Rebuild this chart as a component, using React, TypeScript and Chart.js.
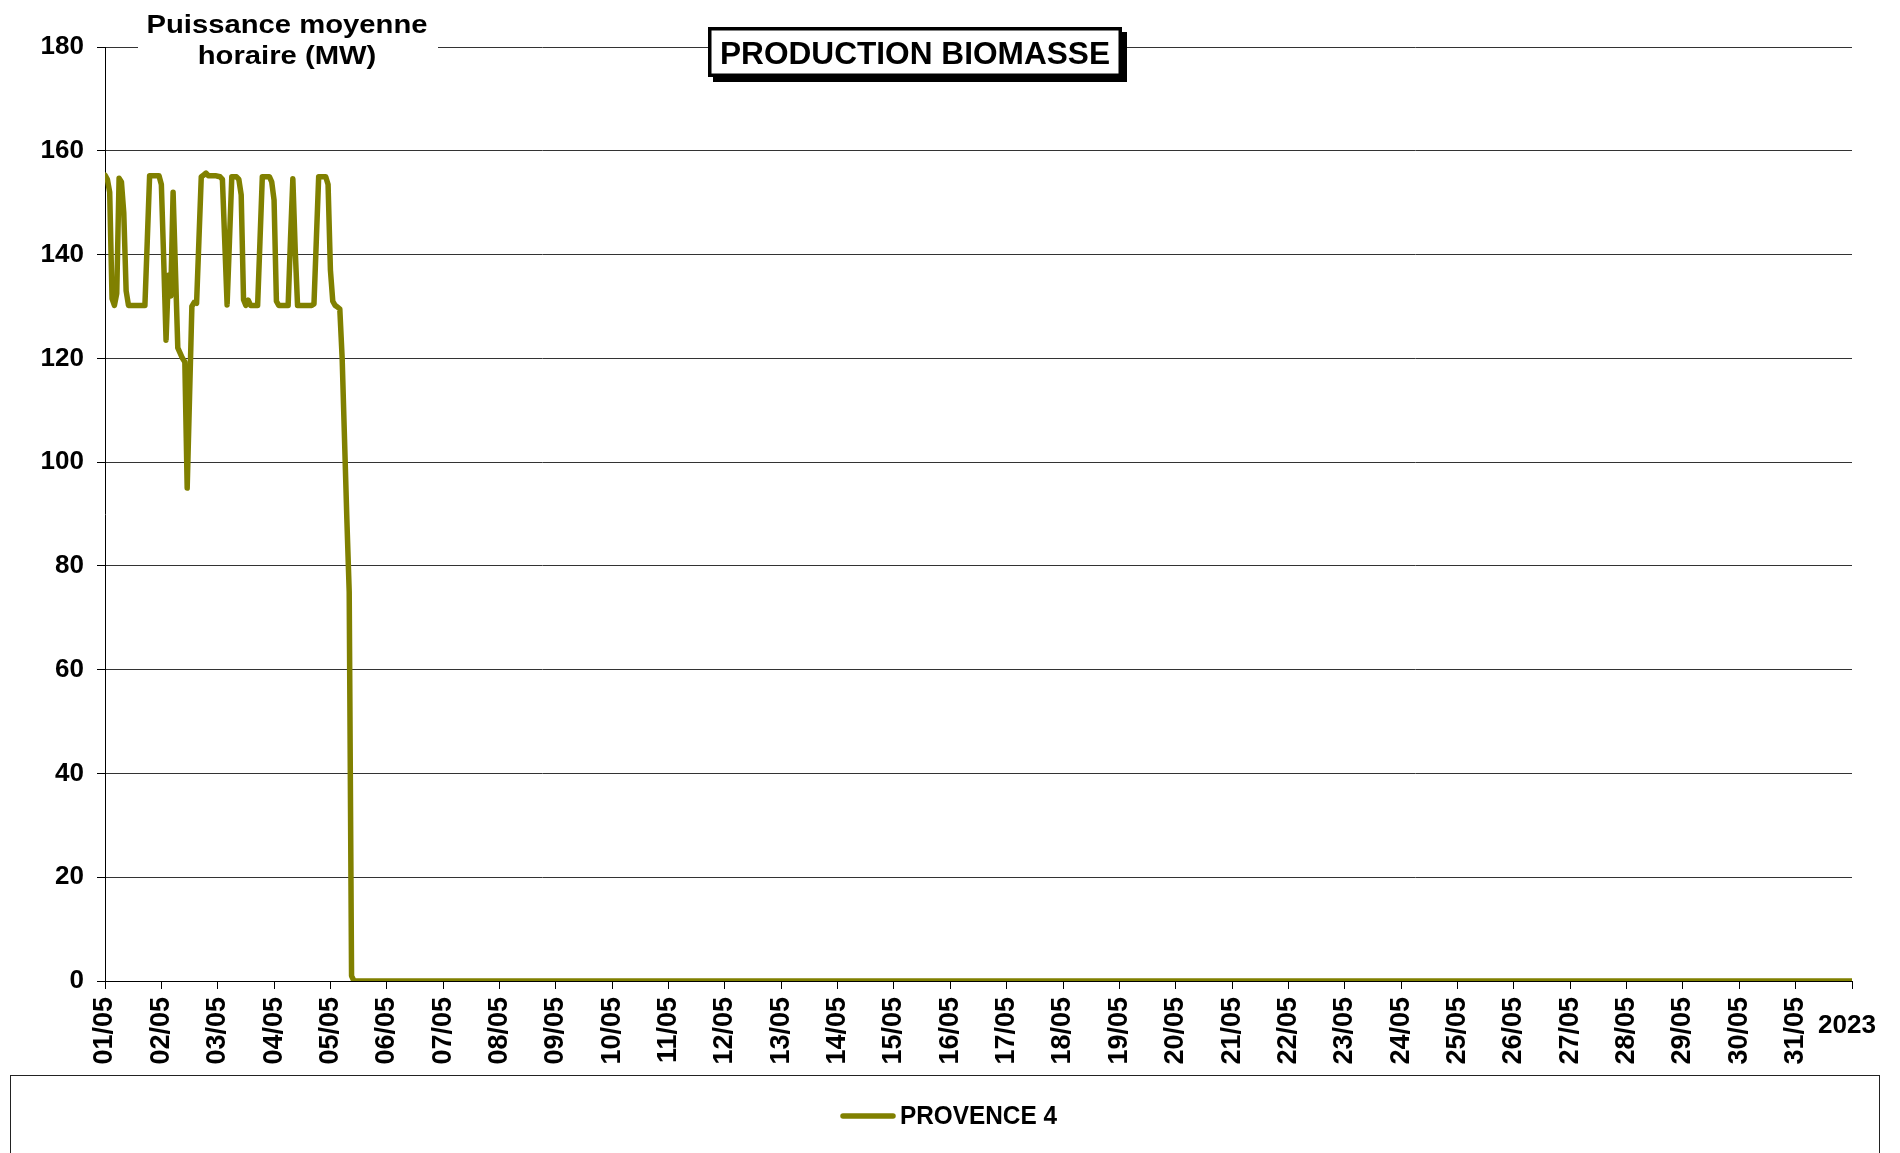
import React, { useEffect, useRef } from "react";
import { Chart, registerables } from "chart.js";

Chart.register(...registerables);

const CHART_TITLE = "PRODUCTION BIOMASSE";
const Y_TITLE_LINES = ["Puissance moyenne", "horaire (MW)"];
const SERIES_NAME = "PROVENCE 4";
const YEAR_LABEL = "2023";
const LINE_COLOR = "#808000";

const Y_MIN = 0;
const Y_MAX = 180;
const Y_STEP = 20;
const HOURS_PER_DAY = 24;

const DAY_LABELS = [
  "01/05", "02/05", "03/05", "04/05", "05/05", "06/05", "07/05", "08/05",
  "09/05", "10/05", "11/05", "12/05", "13/05", "14/05", "15/05", "16/05",
  "17/05", "18/05", "19/05", "20/05", "21/05", "22/05", "23/05", "24/05",
  "25/05", "26/05", "27/05", "28/05", "29/05", "30/05", "31/05",
];

// Hourly mean power (MW), from 01/05 00h, while the unit runs
const ACTIVE_HOURS = [
  155.3, 154.5, 152, 131.5, 130.2, 132.5, 154.7, 154, 148, 133,
  130.2, 130.2, 130.2, 130.2, 130.2, 130.2, 130.2, 130.2, 142.6, 155.2,
  155.2, 155.2, 155.2, 155.2, 153.5, 139, 123.5, 136, 132, 152,
  137, 122, 121, 120, 119.3, 95, 112.5, 130, 130.8, 130.6,
  142.8, 155, 155.3, 155.7, 155.2, 155.2, 155.2, 155.2, 155.1, 155,
  154.5, 142.5, 130.3, 142.6, 155, 155, 155, 154.5, 151.5, 131.3,
  130.2, 131.2, 130.2, 130.2, 130.2, 130.2, 142.6, 155, 155, 155,
  155, 154, 150.5, 131, 130.2, 130.2, 130.2, 130.2, 130.2, 143,
  154.6, 141, 130.2, 130.2, 130.2, 130.2, 130.2, 130.2, 130.2, 130.5,
  142.8, 155, 155, 155, 155, 153.5, 137, 131, 130.2, 129.9,
  129.5, 120, 104.5, 89, 75, 1, 0,
];
// Remaining hours of the month (through the 2023 end tick): unit stopped, 0 MW
const STOPPED_HOURS = 638;
const STOPPED_VALUE = 0;

const FONT = '"Liberation Sans", Arial, sans-serif';

export default function App() {
  const ref = useRef<HTMLCanvasElement | null>(null);

  useEffect(() => {
    document.body.style.margin = "0";
    const canvas = ref.current;
    if (!canvas) return;

    const values = [...ACTIVE_HOURS, ...new Array(STOPPED_HOURS).fill(STOPPED_VALUE)];
    const points = values.map((v, i) => ({ x: i, y: v }));
    const xMax = values.length - 1;

    const overlay = {
      id: "overlay",
      afterDraw(chart: any) {
        const ctx = chart.ctx as CanvasRenderingContext2D;
        ctx.save();

        // Y-axis title (horizontal, top-left)
        ctx.fillStyle = "#fff";
        ctx.fillRect(138, 0, 300, 72);
        ctx.font = `bold 26px ${FONT}`;
        ctx.fillStyle = "#000";
        ctx.textAlign = "center";
        ctx.textBaseline = "alphabetic";
        const w0 = ctx.measureText(Y_TITLE_LINES[0]).width;
        const sx = 281 / w0;
        Y_TITLE_LINES.forEach((t, i) => {
          ctx.save();
          ctx.translate(287, 33 + i * 31);
          ctx.scale(sx, 1);
          ctx.fillText(t, 0, 0);
          ctx.restore();
        });

        // Chart title box with shadow
        ctx.fillStyle = "#000";
        ctx.fillRect(713, 32, 414, 50);
        ctx.fillStyle = "#fff";
        ctx.fillRect(708, 27, 414, 50);
        ctx.lineWidth = 3.5;
        ctx.strokeStyle = "#000";
        ctx.strokeRect(709.75, 28.75, 410.5, 46.5);
        ctx.font = `bold 31px ${FONT}`;
        ctx.fillStyle = "#000";
        const tw = ctx.measureText(CHART_TITLE).width;
        ctx.save();
        ctx.translate(915, 64);
        ctx.scale(390 / tw, 1);
        ctx.fillText(CHART_TITLE, 0, 0);
        ctx.restore();

        // Year label at end of x axis
        ctx.font = `bold 25px ${FONT}`;
        ctx.textBaseline = "middle";
        ctx.textAlign = "center";
        const yw = ctx.measureText(YEAR_LABEL).width;
        ctx.save();
        ctx.translate(1847, 1026);
        ctx.scale(58 / yw, 1);
        ctx.fillText(YEAR_LABEL, 0, 0);
        ctx.restore();

        // Legend frame
        ctx.lineWidth = 1;
        ctx.strokeStyle = "#222";
        ctx.strokeRect(10.5, 1075.5, 1869, 120);
        ctx.strokeStyle = LINE_COLOR;
        ctx.lineWidth = 5.5;
        ctx.lineCap = "round";
        ctx.beginPath();
        ctx.moveTo(843, 1116);
        ctx.lineTo(893, 1116);
        ctx.stroke();
        ctx.fillStyle = "#000";
        ctx.font = `bold 25px ${FONT}`;
        ctx.textAlign = "left";
        ctx.textBaseline = "middle";
        const lw = ctx.measureText(SERIES_NAME).width;
        ctx.save();
        ctx.translate(900, 1117);
        ctx.scale(157 / lw, 1);
        ctx.fillText(SERIES_NAME, 0, 0);
        ctx.restore();

        ctx.restore();
      },
    };

    const chart = new Chart(canvas, {
      type: "line",
      data: {
        datasets: [
          {
            label: SERIES_NAME,
            data: points,
            borderColor: LINE_COLOR,
            backgroundColor: LINE_COLOR,
            borderWidth: 5.5,
            pointRadius: 0,
            tension: 0,
            borderJoinStyle: "round",
            borderCapStyle: "round",
            fill: false,
          },
        ],
      },
      options: {
        responsive: false,
        animation: false,
        devicePixelRatio: 1,
        parsing: false,
        normalized: true,
        layout: { padding: { top: 47, right: 48, bottom: 80, left: 0 } },
        plugins: {
          legend: { display: false },
          title: { display: false },
          tooltip: { enabled: false },
        },
        scales: {
          x: {
            type: "linear",
            min: 0,
            max: xMax,
            afterFit: (s: any) => {
              s.height = 92;
            },
            afterBuildTicks: (s: any) => {
              const t = [];
              for (let v = 0; v <= xMax; v += HOURS_PER_DAY) t.push({ value: v });
              s.ticks = t;
            },
            ticks: {
              autoSkip: false,
              minRotation: 90,
              maxRotation: 90,
              padding: 8,
              color: "#000",
              font: { family: FONT, size: 27, weight: "bold" },
              callback: (v: any) => {
                const d = Math.round(Number(v) / HOURS_PER_DAY);
                return d < DAY_LABELS.length ? DAY_LABELS[d] : "";
              },
            },
            grid: {
              drawOnChartArea: false,
              drawTicks: true,
              tickLength: 8,
              tickColor: "#000",
            },
            border: { display: true, color: "#000", width: 1 },
          },
          y: {
            min: Y_MIN,
            max: Y_MAX,
            afterFit: (s: any) => {
              s.width = 105;
            },
            ticks: {
              stepSize: Y_STEP,
              padding: 13,
              color: "#000",
              font: { family: FONT, size: 26, weight: "bold" },
            },
            grid: {
              color: "#333",
              lineWidth: 1,
              drawTicks: true,
              tickLength: 8,
              tickColor: "#000",
            },
            border: { display: true, color: "#000", width: 1 },
          },
        },
      },
      plugins: [overlay],
    });

    return () => chart.destroy();
  }, []);

  return (
    <canvas
      ref={ref}
      width={1900}
      height={1153}
      style={{ display: "block", width: "1900px", height: "1153px" }}
    />
  );
}
